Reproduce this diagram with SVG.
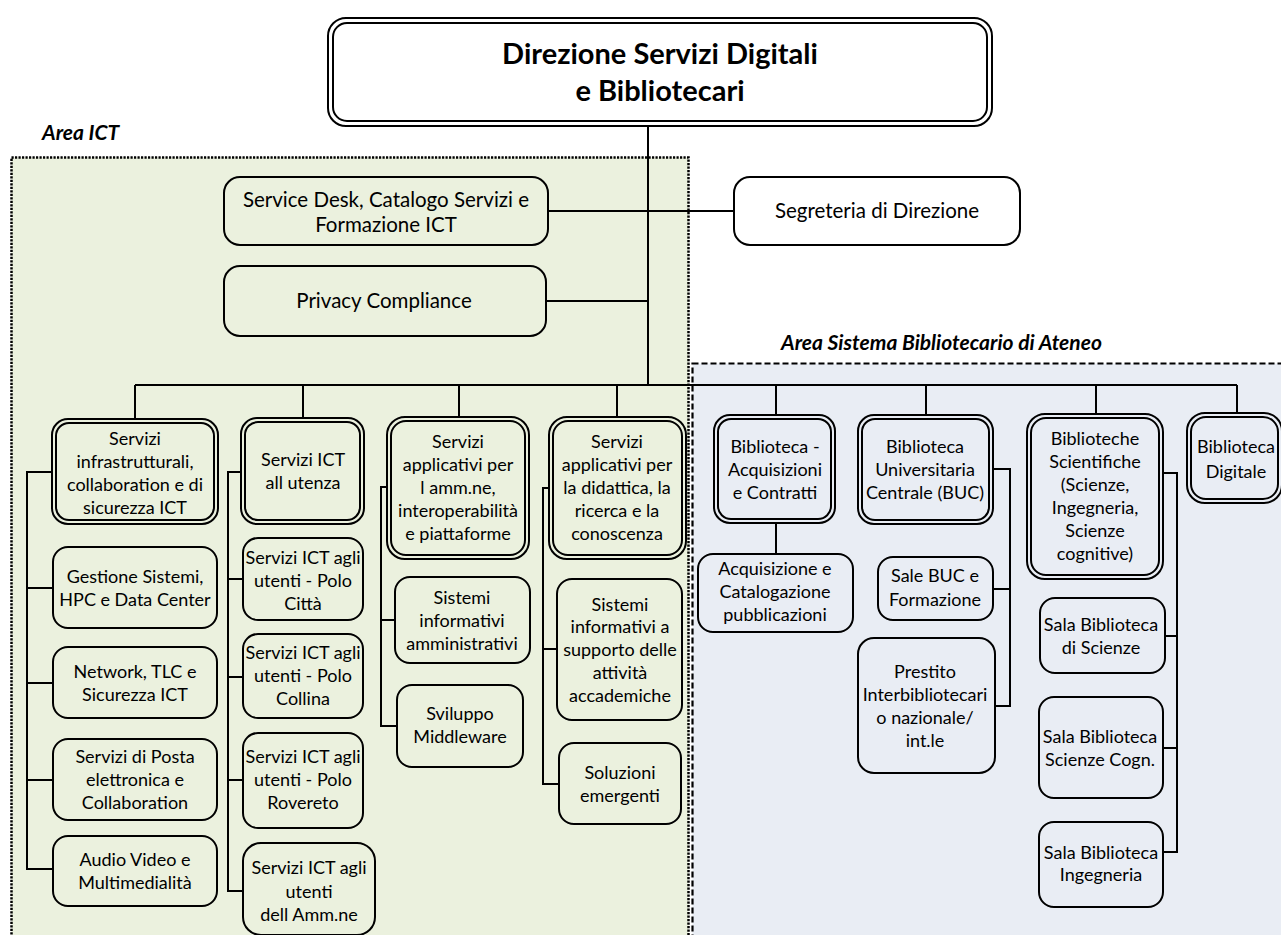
<svg xmlns="http://www.w3.org/2000/svg" width="1281" height="935" viewBox="0 0 1281 935">
<style>
text{font-family:Lato,"Liberation Sans",sans-serif;font-size:18px;fill:#000;text-anchor:middle}
.title{font-size:29px;font-weight:bold}
.big{font-size:20.5px}
.area{font-size:21px;font-weight:bold;font-style:italic;text-anchor:start}
.box{fill:none;stroke:#000;stroke-width:2}
.wbox{fill:#fff;stroke:#000;stroke-width:2}
.conn{fill:none;stroke:#000;stroke-width:2}
</style>
<rect x="0" y="0" width="1281" height="935" fill="#fff"/>
<g id="area-ict">
<rect x="11.5" y="157.5" width="677" height="800" fill="#EBF1DE" stroke="#000" stroke-width="2.5" stroke-dasharray="2.2 1.3"/>
<text class="area" x="42" y="140">Area ICT</text>
</g>
<g id="area-sba">
<rect x="692.5" y="363.5" width="620" height="600" fill="#E9EDF4" stroke="#000" stroke-width="2.2" stroke-dasharray="6 3"/>
<text class="area" x="781" y="350">Area Sistema Bibliotecario di Ateneo</text>
</g>
<g id="connectors">
<path class="conn" d="M648 127V385M548 211H734M546 301H648M135 385H1237"/>
<path class="conn" d="M135 385V419M303 385V418M459 385V417M617 385V417M776 385V415M926 385V415M1096 385V414M1237 385V413"/>
<path class="conn" d="M52 472H27V869H53M27 588H53M27 683H53M27 780H53"/>
<path class="conn" d="M241 472H228V891H243M228 579H243M228 677H243M228 780H243"/>
<path class="conn" d="M387 487H381V726H397M381 620H395"/>
<path class="conn" d="M549 488H543V784H559M543 649H557"/>
<path class="conn" d="M776 523V554"/>
<path class="conn" d="M993 469H1010V706H995M993 589H1010"/>
<path class="conn" d="M1163 473H1177V852H1163M1165 636H1177M1163 748H1177"/>
</g>
<g id="n-direzione">
<rect class="wbox" x="328" y="18" width="664" height="108" rx="18" stroke-width="3.5"/>
<rect class="box" x="333" y="23" width="654" height="98" rx="14"/>
<text class="title" x="660" y="64">Direzione Servizi Digitali</text>
<text class="title" x="660" y="101">e Bibliotecari</text>
</g>
<g id="n-servicedesk">
<rect class="box" x="224" y="177" width="324" height="68" rx="16"/>
<text class="big" x="386" y="207">Service Desk, Catalogo Servizi e</text>
<text class="big" x="386" y="232">Formazione ICT</text>
</g>
<g id="n-privacy">
<rect class="box" x="224" y="266" width="322" height="70" rx="16"/>
<text class="big" x="384" y="308">Privacy Compliance</text>
</g>
<g id="n-segreteria">
<rect class="wbox" x="734" y="177" width="286" height="68" rx="16"/>
<text class="big" x="877" y="218">Segreteria di Direzione</text>
</g>
<g id="n-infra">
<rect class="box" x="52" y="419" width="166" height="105" rx="16"/>
<rect class="box" x="56" y="423" width="158" height="97" rx="13"/>
<text x="135" y="445">Servizi</text>
<text x="135" y="468">infrastrutturali,</text>
<text x="135" y="491">collaboration e di</text>
<text x="135" y="514">sicurezza ICT</text>
</g>
<g id="n-gestione">
<rect class="box" x="53" y="547" width="164" height="81" rx="15"/>
<text x="135" y="583">Gestione Sistemi,</text>
<text x="135" y="606">HPC e Data Center</text>
</g>
<g id="n-network">
<rect class="box" x="53" y="647" width="164" height="71" rx="15"/>
<text x="135" y="678">Network, TLC e</text>
<text x="135" y="701">Sicurezza ICT</text>
</g>
<g id="n-posta">
<rect class="box" x="53" y="739" width="164" height="81" rx="15"/>
<text x="135" y="763">Servizi di Posta</text>
<text x="135" y="786">elettronica e</text>
<text x="135" y="809">Collaboration</text>
</g>
<g id="n-audio">
<rect class="box" x="53" y="836" width="164" height="70" rx="15"/>
<text x="135" y="866">Audio Video e</text>
<text x="135" y="889">Multimedialità</text>
</g>
<g id="n-utenza">
<rect class="box" x="241" y="418" width="123" height="106" rx="16"/>
<rect class="box" x="245" y="422" width="115" height="98" rx="13"/>
<text x="303" y="466">Servizi ICT</text>
<text x="303" y="489">all utenza</text>
</g>
<g id="n-citta">
<rect class="box" x="243" y="538" width="120" height="82" rx="15"/>
<text x="303" y="564">Servizi ICT agli</text>
<text x="303" y="587">utenti - Polo</text>
<text x="303" y="610">Città</text>
</g>
<g id="n-collina">
<rect class="box" x="243" y="634" width="120" height="84" rx="15"/>
<text x="303" y="659">Servizi ICT agli</text>
<text x="303" y="682">utenti - Polo</text>
<text x="303" y="705">Collina</text>
</g>
<g id="n-rovereto">
<rect class="box" x="243" y="733" width="120" height="95" rx="15"/>
<text x="303" y="763">Servizi ICT agli</text>
<text x="303" y="786">utenti - Polo</text>
<text x="303" y="809">Rovereto</text>
</g>
<g id="n-ammne">
<rect class="box" x="243" y="843" width="132" height="92" rx="18"/>
<text x="309" y="874">Servizi ICT agli</text>
<text x="309" y="898">utenti</text>
<text x="309" y="921">dell Amm.ne</text>
</g>
<g id="n-applamm">
<rect class="box" x="387" y="417" width="142" height="142" rx="18"/>
<rect class="box" x="391" y="421" width="134" height="134" rx="15"/>
<text x="458" y="448">Servizi</text>
<text x="458" y="471">applicativi per</text>
<text x="458" y="494">l amm.ne,</text>
<text x="458" y="517">interoperabilità</text>
<text x="458" y="540">e piattaforme</text>
</g>
<g id="n-sisamm">
<rect class="box" x="395" y="577" width="135" height="86" rx="15"/>
<text x="462" y="604">Sistemi</text>
<text x="462" y="627">informativi</text>
<text x="462" y="650">amministrativi</text>
</g>
<g id="n-middleware">
<rect class="box" x="397" y="685" width="126" height="82" rx="15"/>
<text x="460" y="720">Sviluppo</text>
<text x="460" y="743">Middleware</text>
</g>
<g id="n-appldid">
<rect class="box" x="549" y="417" width="137" height="142" rx="18"/>
<rect class="box" x="553" y="421" width="129" height="134" rx="15"/>
<text x="617" y="448">Servizi</text>
<text x="617" y="471">applicativi per</text>
<text x="617" y="494">la didattica, la</text>
<text x="617" y="517">ricerca e la</text>
<text x="617" y="540">conoscenza</text>
</g>
<g id="n-sisacc">
<rect class="box" x="557" y="579" width="125" height="141" rx="15"/>
<text x="620" y="611">Sistemi</text>
<text x="620" y="633">informativi a</text>
<text x="620" y="656">supporto delle</text>
<text x="620" y="679">attività</text>
<text x="620" y="702">accademiche</text>
</g>
<g id="n-soluzioni">
<rect class="box" x="559" y="743" width="122" height="81" rx="15"/>
<text x="620" y="779">Soluzioni</text>
<text x="620" y="802">emergenti</text>
</g>
<g id="n-bibacq">
<rect class="box" x="714" y="415" width="121" height="108" rx="16"/>
<rect class="box" x="718" y="419" width="113" height="100" rx="13"/>
<text x="775" y="453">Biblioteca -</text>
<text x="775" y="476">Acquisizioni</text>
<text x="775" y="499">e Contratti</text>
</g>
<g id="n-acqcat">
<rect class="box" x="698" y="554" width="155" height="78" rx="15"/>
<text x="775" y="575">Acquisizione e</text>
<text x="775" y="598">Catalogazione</text>
<text x="775" y="621">pubblicazioni</text>
</g>
<g id="n-buc">
<rect class="box" x="858" y="415" width="135" height="109" rx="16"/>
<rect class="box" x="862" y="419" width="127" height="101" rx="13"/>
<text x="925" y="453">Biblioteca</text>
<text x="925" y="476">Universitaria</text>
<text x="925" y="499">Centrale (BUC)</text>
</g>
<g id="n-salebuc">
<rect class="box" x="878" y="557" width="115" height="63" rx="15"/>
<text x="935" y="582">Sale BUC e</text>
<text x="935" y="606">Formazione</text>
</g>
<g id="n-prestito">
<rect class="box" x="858" y="638" width="137" height="135" rx="16"/>
<text x="925" y="678">Prestito</text>
<text x="925" y="701">Interbibliotecari</text>
<text x="925" y="724">o nazionale/</text>
<text x="925" y="747">int.le</text>
</g>
<g id="n-bibsci">
<rect class="box" x="1027" y="414" width="136" height="165" rx="18"/>
<rect class="box" x="1031" y="418" width="128" height="157" rx="15"/>
<text x="1095" y="445">Biblioteche</text>
<text x="1095" y="468">Scientifiche</text>
<text x="1095" y="491">(Scienze,</text>
<text x="1095" y="514">Ingegneria,</text>
<text x="1095" y="537">Scienze</text>
<text x="1095" y="560">cognitive)</text>
</g>
<g id="n-salasci">
<rect class="box" x="1040" y="598" width="125" height="75" rx="15"/>
<text x="1101" y="631">Sala Biblioteca</text>
<text x="1101" y="654">di Scienze</text>
</g>
<g id="n-salacogn">
<rect class="box" x="1039" y="697" width="124" height="101" rx="15"/>
<text x="1100" y="743">Sala Biblioteca</text>
<text x="1100" y="766">Scienze Cogn.</text>
</g>
<g id="n-salaing">
<rect class="box" x="1039" y="822" width="124" height="85" rx="15"/>
<text x="1101" y="859">Sala Biblioteca</text>
<text x="1101" y="881">Ingegneria</text>
</g>
<g id="n-bibdig">
<rect class="box" x="1187" y="413" width="95" height="90" rx="18"/>
<rect class="box" x="1191" y="417" width="87" height="82" rx="15"/>
<text x="1236" y="453">Biblioteca</text>
<text x="1236" y="478">Digitale</text>
</g>
</svg>
